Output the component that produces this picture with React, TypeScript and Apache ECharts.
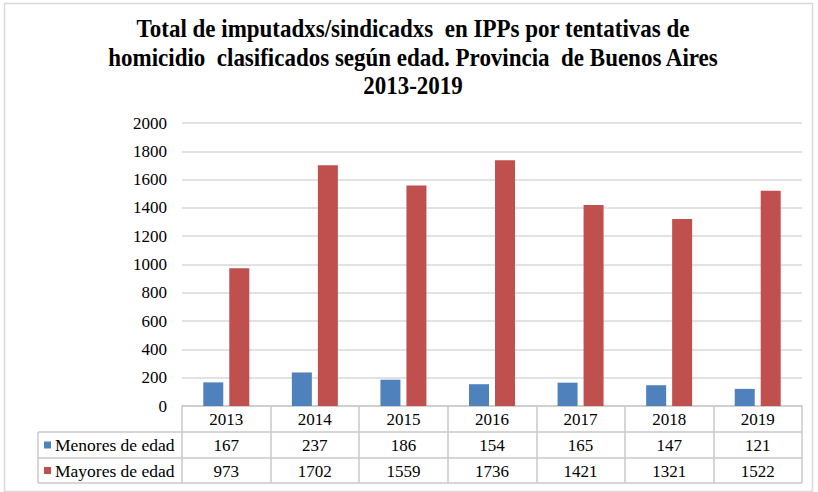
import React, { useEffect, useRef } from "react";
import * as echarts from "echarts";

const years = ["2013", "2014", "2015", "2016", "2017", "2018", "2019"];
const menores = [167, 237, 186, 154, 165, 147, 121];
const mayores = [973, 1702, 1559, 1736, 1421, 1321, 1522];
const seriesNames = ["Menores de edad", "Mayores de edad"];
const titleLines = [
  "Total de imputadxs/sindicadxs  en IPPs por tentativas de",
  "homicidio  clasificados según edad. Provincia  de Buenos Aires",
  "2013-2019",
];

const W = 818;
const H = 492;
const GRID_L = 182;
const GRID_R = 802;
const GRID_T = 123;
const GRID_B = 406;
const ROW1 = 432;
const ROW2 = 458;
const ROW3 = 483;
const TABLE_L = 38;
const BLUE = "#4F81BD";
const RED = "#C0504D";
const LINE = "#C8C8C8";
const FONT = "Liberation Serif";

export default function App() {
  const ref = useRef<HTMLDivElement>(null);
  useEffect(() => {
    if (!ref.current) return;
    const chart = echarts.init(ref.current, null, { renderer: "svg" });
    const hLine = (y: number, x1: number, x2: number) => ({
      type: "line",
      shape: { x1, y1: y, x2, y2: y },
      style: { stroke: LINE, lineWidth: 1.5 },
      silent: true,
    });
    chart.setOption({
      animation: false,
      backgroundColor: "#fff",
      textStyle: { fontFamily: FONT },
      grid: { left: GRID_L, right: W - GRID_R, top: GRID_T, bottom: H - GRID_B, containLabel: false },
      xAxis: {
        type: "category",
        data: years,
        axisLine: { show: true, lineStyle: { color: LINE, width: 1.5 } },
        axisTick: { show: true, length: ROW3 - GRID_B, lineStyle: { color: LINE, width: 1.5 } },
        axisLabel: {
          margin: 0,
          color: "#000",
          fontFamily: FONT,
          fontSize: 17,
          lineHeight: 26,
          formatter: (v: string, i: number) => `${v}\n${menores[i]}\n${mayores[i]}`,
        },
        splitLine: { show: false },
      },
      yAxis: {
        type: "value",
        min: 0,
        max: 2000,
        interval: 200,
        axisLine: { show: false },
        axisTick: { show: false },
        axisLabel: {
          margin: 15,
          color: "#000",
          fontFamily: FONT,
          fontSize: 17,
          formatter: (v: number) => String(v),
        },
        splitLine: { lineStyle: { color: "#D9D9D9", width: 1.5 } },
      },
      series: [
        {
          name: seriesNames[0],
          type: "bar",
          data: menores,
          barWidth: 20,
          barGap: "30%",
          itemStyle: { color: BLUE },
        },
        {
          name: seriesNames[1],
          type: "bar",
          data: mayores,
          barWidth: 20,
          barGap: "30%",
          itemStyle: { color: RED },
        },
      ],
      graphic: [
        {
          type: "rect",
          shape: { x: 4.5, y: 3.5, width: 808, height: 488 },
          style: { fill: "none", stroke: "#D9D9D9", lineWidth: 1.5 },
          silent: true,
          z: -1,
        },
        {
          type: "text",
          x: 413,
          y: 57,
          scaleY: 1.1,
          style: {
            text: titleLines.join("\n"),
            textAlign: "center",
            textVerticalAlign: "middle",
            fontFamily: FONT,
            fontWeight: "bold",
            fontSize: 23,
            lineHeight: 26,
            fill: "#000",
          },
        },
        hLine(ROW1, TABLE_L, GRID_R),
        hLine(ROW2, TABLE_L, GRID_R),
        hLine(ROW3, TABLE_L, GRID_R),
        {
          type: "line",
          shape: { x1: TABLE_L, y1: ROW1, x2: TABLE_L, y2: ROW3 },
          style: { stroke: LINE, lineWidth: 1.5 },
        },
        {
          type: "rect",
          shape: { x: 44, y: (ROW1 + ROW2) / 2 - 3.5, width: 7, height: 7 },
          style: { fill: BLUE },
        },
        {
          type: "text",
          x: 55,
          y: (ROW1 + ROW2) / 2,
          style: {
            text: seriesNames[0],
            textVerticalAlign: "middle",
            fontFamily: FONT,
            fontSize: 17.5,
            fill: "#000",
          },
        },
        {
          type: "rect",
          shape: { x: 44, y: (ROW2 + ROW3) / 2 - 3.5, width: 7, height: 7 },
          style: { fill: RED },
        },
        {
          type: "text",
          x: 55,
          y: (ROW2 + ROW3) / 2,
          style: {
            text: seriesNames[1],
            textVerticalAlign: "middle",
            fontFamily: FONT,
            fontSize: 17.5,
            fill: "#000",
          },
        },
      ],
    });
    return () => chart.dispose();
  }, []);
  return (
    <div
      ref={ref}
      style={{ position: "fixed", left: 0, top: 0, width: W, height: H, background: "#fff" }}
    />
  );
}
